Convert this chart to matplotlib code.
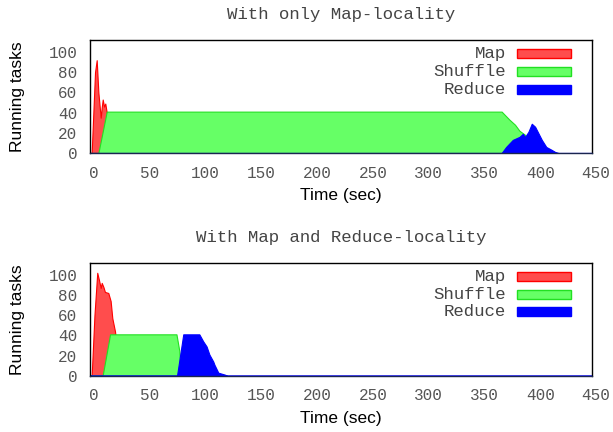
import matplotlib
matplotlib.use("Agg")
import matplotlib.pyplot as plt
import matplotlib.transforms as mtransforms
from matplotlib.patches import Rectangle

# ---- data ----
titles = ["With only Map-locality", "With Map and Reduce-locality"]
series_names = ["Map", "Shuffle", "Reduce"]
x_ticks = [0, 50, 100, 150, 200, 250, 300, 350, 400, 450]
y_ticks = [0, 20, 40, 60, 80, 100]

# top panel
map1_t = [0, 1.5, 3, 4.5, 6, 7.5, 9.6, 10.5, 11.4, 12.6, 13.7, 15, 16, 17]
map1_y = [0, 0, 40, 80, 92, 60, 35, 45, 53, 46, 49, 40, 20, 0]
shuffle1_t = [0, 7.5, 15, 369, 376, 381, 385, 390, 394, 398]
shuffle1_y = [0, 0, 41, 41, 33, 28, 22, 18, 8, 0]
reduce1_t = [0, 369, 373, 379, 385, 388, 390, 393, 396, 399, 402, 405, 409, 414, 417, 420, 450]
reduce1_y = [0, 0, 6, 13, 16, 19, 16, 21, 29, 26, 19.5, 13, 6, 3, 1, 0, 0]

# bottom panel
map2_t = [0, 1.5, 4, 6.5, 8, 9.6, 10.5, 12, 13.4, 16.4, 18.5, 20, 22.4, 25, 27]
map2_y = [0, 0, 60, 102, 95, 87, 92, 88, 83, 82, 74, 57, 44, 20, 0]
shuffle2_t = [0, 11.3, 18, 77.5, 80, 81.5]
shuffle2_y = [0, 0, 41, 41, 25, 0]
reduce2_t = [0, 78, 83.6, 98, 101.5, 104.5, 107, 110.5, 111.5, 115, 121, 123, 450]
reduce2_y = [0, 0, 41, 41, 34, 29, 21, 14, 11, 3, 1, 0, 0]

panels = [
    [(map1_t, map1_y), (shuffle1_t, shuffle1_y), (reduce1_t, reduce1_y)],
    [(map2_t, map2_y), (shuffle2_t, shuffle2_y), (reduce2_t, reduce2_y)],
]

fills = ["#ff4d4d", "#66ff66", "#0000ff"]
edges = ["#ff0000", "#22e022", "#0000ff"]

MONO = "Liberation Mono"
SANS = "Liberation Sans"

W, H = 613, 432
fig = plt.figure(figsize=(W / 100, H / 100), dpi=100)

# axes pixel boxes (left, top, right, bottom)
boxes = [(90, 40, 592, 153), (90, 262.7, 592, 375.7)]
title_y = [14, 237]
shift = mtransforms.ScaledTranslation(4 / 100, 0, fig.dpi_scale_trans)

for i, (box, data) in enumerate(zip(boxes, panels)):
    l, t, r, b = box
    ax = fig.add_axes([l / W, 1 - b / H, (r - l) / W, (b - t) / H])
    for (tt, yy), fc, ec in zip(data, fills, edges):
        ax.fill_between(tt, yy, 0, facecolor=fc, edgecolor=ec, linewidth=0.8)
    ax.set_xlim(0, 450)
    ax.set_ylim(0, 112)
    ax.set_xticks(x_ticks)
    ax.set_yticks(y_ticks)
    ax.tick_params(length=0, labelsize=11.5, labelcolor="#555555")
    ax.tick_params(axis="x", pad=9)
    ax.tick_params(axis="y", pad=9)
    for lab in ax.get_xticklabels() + ax.get_yticklabels():
        lab.set_family(MONO)
    for lab in ax.get_xticklabels():
        lab.set_transform(lab.get_transform() + shift)
    for sp in ax.spines.values():
        sp.set_linewidth(1.0)
        sp.set_color("black")
    ax.spines["bottom"].set_color("#1a2550")

    ax.set_xlabel("Time (sec)", fontsize=12.5, family=SANS)
    ax.xaxis.label.set_verticalalignment("center")
    ax.xaxis.set_label_coords(0.5, (b - (195 if i == 0 else 418)) / (b - t))
    ax.set_ylabel("Running tasks", fontsize=12.5, family=SANS)
    ax.yaxis.label.set_verticalalignment("center")
    ax.yaxis.set_label_coords((18 - l) / (r - l), 0.5)

    fig.text((l + r) / 2 / W, 1 - title_y[i] / H, titles[i], ha="center", va="center",
             fontsize=12.5, family=MONO, color="#444444")

    # legend
    row_y = [0.879, 0.719, 0.564]
    for name, fc, ec, yy in zip(series_names, fills, edges, row_y):
        ax.text(0.829, yy, name, transform=ax.transAxes, ha="right", va="center",
                fontsize=12.5, family=MONO, color="#444444")
        ax.add_patch(Rectangle((0.851, yy - 0.04), 0.108, 0.08, transform=ax.transAxes,
                               facecolor=fc, edgecolor=ec, linewidth=1.0))

fig.savefig("out.png", dpi=100)
